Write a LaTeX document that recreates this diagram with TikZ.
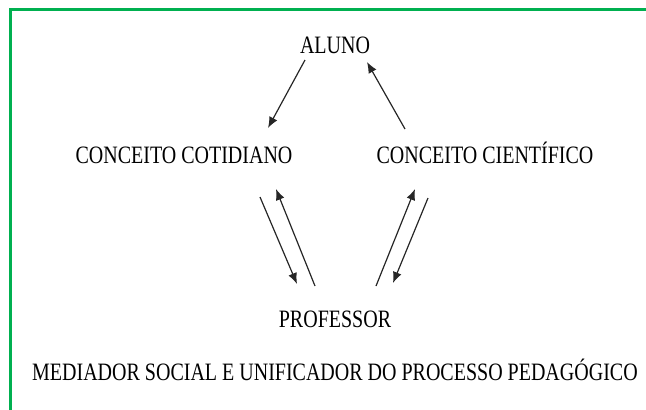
\documentclass[tikz,border=0pt]{standalone}
\usepackage{fontspec}
\setmainfont{Liberation Serif}[FakeStretch=0.8]
\usepackage{tikz}
\usetikzlibrary{arrows.meta}
\definecolor{framegreen}{RGB}{0,176,80}

\begin{document}
\begin{tikzpicture}[x=1pt, y=-1pt,
        every node/.style={anchor=base, inner sep=0pt, font=\fontsize{25}{30}\selectfont},
        arr/.style={-{Latex[length=11pt,width=9pt]}, line width=1.2pt, black!85}]
                \useasboundingbox (0,0) rectangle (646,410);

                % Frame
                \draw[framegreen, line width=2.2pt] (10.5,410) |- (646,9.5);

                % Nodes
                \node at (335,53) (aluno) {ALUNO};
                \node at (184,163) (cot) {CONCEITO COTIDIANO};
                \node at (485,163) (cie) {CONCEITO CIENTÍFICO};
                \node at (335,327) (prof) {PROFESSOR};
                \node at (335,380) (med) {MEDIADOR SOCIAL E UNIFICADOR DO PROCESSO PEDAGÓGICO};

                % Arrows
                \draw[arr] ([shift={(-30,7)}]aluno.base) -- ([shift={(84,-35)}]cot.base);
                \draw[arr] ([shift={(-80,-34)}]cie.base) -- ([shift={(32,9)}]aluno.base);
                \draw[arr] ([shift={(76,34)}]cot.base) -- ([shift={(-38,-43)}]prof.base);
                \draw[arr] ([shift={(-20,-41)}]prof.base) -- ([shift={(92,26)}]cot.base);
                \draw[arr] ([shift={(41,-41)}]prof.base) -- ([shift={(-70,26)}]cie.base);
                \draw[arr] ([shift={(-57,35)}]cie.base) -- ([shift={(58,-44)}]prof.base);

            \end{tikzpicture}
\end{document}
